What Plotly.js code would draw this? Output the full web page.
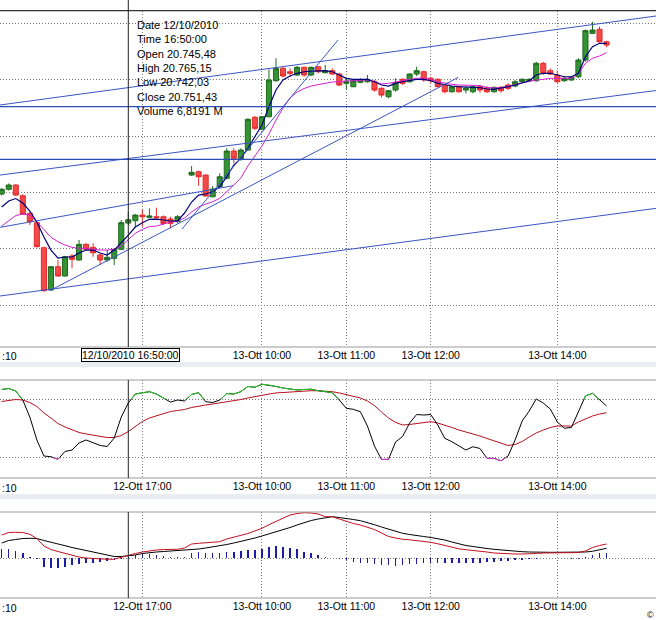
<!DOCTYPE html>
<html><head><meta charset="utf-8">
<script src="https://cdn.plot.ly/plotly-3.0.1.min.js"></script>
<style>html,body{margin:0;padding:0;background:#fff;}#chart{width:656px;height:620px;}</style>
</head><body><div id="chart"></div>
<script>
// ---- Price candles (5 min, FTSE MIB), index 26 = session gap ----
const openP  = [20797.0,20805.4,20813.0,20794.0,20762.8,20746.1,20701.7,20626.6,20668.0,20651.5,20687.0,20679.9,20707.7,20702.4,20688.8,20679.9,20682.9,20698.9,20745.48,20749.6,20759.7,20755.7,20756.7,20756.7,20752.6,20747.9,null,20830.7,20836.6,20830.7,20792.2,20810.0,20824.9,20873.3,20858.6,20875.1,20933.2,20911.9,20934.2,20998.1,21020.1,21014.1,21008.2,21021.9,21008.2,21023.0,21012.3,21015.9,21010.0,20993.5,20987.5,20995.3,20996.3,20996.3,20984.6,20969.7,20981.6,21000.6,20996.3,21010.0,21014.1,21002.4,21000.6,20990.5,20978.6,20987.5,20981.6,20978.6,20987.5,20985.7,20978.6,20986.4,20990.5,20988.7,20996.3,20998.1,20998.1,21029.0,21015.9,21008.2,20998.1,20999.4,21005.2,21034.9,21082.2,21089.3,21067.3];
const highP  = [20807.7,20815.7,20814.8,20796.5,20765.6,20747.9,20703.5,20669.2,20679.9,20687.0,20690.5,20715.4,20709.5,20709.5,20691.8,20697.6,20700.6,20750.9,20765.15,20761.5,20769.9,20771.6,20772.7,20758.9,20756.7,20759.7,null,20846.7,20838.4,20832.0,20811.2,20833.8,20878.1,20878.1,20878.1,20931.4,20935.5,20935.5,21018.3,21037.9,21023.0,21020.1,21024.2,21023.0,21023.0,21024.2,21026.0,21020.1,21012.3,21002.4,20999.4,21002.4,21008.2,20999.4,20986.4,20981.6,21002.4,21002.4,21011.3,21023.0,21015.9,21005.2,21002.4,20993.5,20988.7,20988.7,20987.5,20988.7,20990.5,20988.7,20987.5,20988.7,20993.5,20999.4,21002.4,21002.4,21031.8,21031.8,21020.1,21015.9,21005.2,21006.5,21037.9,21089.3,21102.8,21094.0,21069.1];
const lowP   = [20794.4,20803.2,20793.5,20759.7,20742.0,20702.4,20623.6,20625.4,20650.2,20650.6,20665.1,20678.6,20697.6,20685.7,20671.0,20676.9,20671.0,20697.6,20742.03,20737.9,20739.0,20753.9,20753.9,20742.0,20736.1,20746.1,null,20829.0,20811.8,20792.2,20791.2,20808.9,20823.1,20851.5,20856.1,20873.3,20910.6,20910.6,20933.2,20996.3,21004.2,21005.2,21006.5,21005.2,21006.5,21011.3,21011.3,21008.2,20988.7,20982.9,20986.4,20993.5,20994.6,20978.6,20968.7,20966.9,20978.6,20990.5,20994.6,21006.5,20996.3,20993.5,20986.4,20975.8,20976.8,20976.8,20975.8,20975.8,20976.8,20976.3,20976.8,20976.8,20981.6,20986.4,20994.6,20996.3,20996.3,21008.2,21008.2,20994.6,20996.3,20998.1,21002.4,21031.8,21081.0,21065.6,21057.4];
const closeP = [20805.4,20813.0,20795.2,20761.5,20747.9,20703.5,20625.4,20668.0,20651.5,20685.7,20681.1,20707.7,20698.9,20692.8,20679.9,20684.7,20698.9,20746.1,20751.43,20759.7,20756.7,20758.0,20755.0,20744.7,20745.0,20756.7,null,20835.5,20827.7,20793.5,20805.9,20827.7,20873.3,20860.4,20875.1,20929.6,20913.6,20934.2,20999.4,21020.1,21006.5,21011.3,21021.9,21008.2,21021.9,21014.1,21015.9,21010.0,20990.5,20996.3,20998.1,20999.4,21000.6,20981.6,20972.7,20980.4,20994.6,20993.5,21010.0,21015.9,20999.4,20998.1,20987.5,20978.6,20987.5,20978.6,20984.6,20987.5,20981.6,20978.6,20986.4,20980.4,20984.6,20996.3,21000.6,21000.6,21029.0,21011.3,21010.0,20996.3,21002.4,21004.2,21034.9,21086.9,21088.1,21067.3,21061.5];
// moving averages
const maFast = [20773.9,20784.6,20789.0,20781.0,20766.9,20747.3,20720.7,20697.6,20683.4,20685.2,20685.2,20692.3,20697.6,20697.6,20692.3,20688.8,20697.6,20710.0,20724.2,20738.4,20746.1,20752.1,20752.6,20750.9,20749.1,20749.1,20763.3,20782.8,20795.2,20797.0,20801.1,20810.0,20827.7,20848.5,20860.4,20878.1,20898.7,20919.5,20952.0,20981.6,20999.4,21006.5,21011.3,21014.1,21015.3,21015.9,21015.9,21014.1,21008.2,21002.4,21000.6,21000.6,21000.6,20996.3,20990.5,20988.7,20993.5,20996.3,20998.1,21000.6,21000.6,20998.1,20993.5,20990.5,20988.7,20987.5,20986.4,20986.4,20986.0,20983.4,20982.9,20984.6,20987.5,20990.5,20994.6,20998.1,21008.2,21011.3,21011.3,21008.2,21005.2,21005.2,21011.3,21040.7,21058.5,21064.5,21064.5];
const maSlow = [20740.2,20749.1,20758.9,20761.5,20759.7,20747.9,20733.1,20720.2,20712.4,20706.5,20702.4,20700.6,20700.6,20698.9,20697.6,20697.6,20698.9,20704.7,20715.4,20727.3,20734.4,20739.0,20740.2,20743.8,20747.3,20749.1,20754.4,20765.1,20773.9,20779.3,20783.3,20789.4,20800.6,20813.0,20825.4,20846.7,20864.5,20882.2,20903.5,20928.4,20949.7,20967.4,20978.1,20984.3,20988.7,20991.4,20994.0,20995.8,20996.3,20998.1,20998.1,20998.1,20999.4,20996.3,20992.3,20993.5,20995.3,20998.1,21000.6,21002.4,21002.4,21000.6,20996.3,20993.5,20991.7,20990.5,20990.5,20990.5,20989.6,20986.0,20985.2,20986.0,20988.7,20991.4,20994.6,20997.1,20999.4,21000.6,21002.4,21002.4,21002.4,21002.4,21011.3,21029.0,21037.9,21042.0,21047.8];
// stochastic oscillator
const stochK = [90.2,91.2,88.6,79.3,61.7,38.0,21.4,20.7,18.0,26.1,27.6,34.9,38.0,34.9,32.3,31.2,40.0,61.7,76.2,85.5,86.9,87.9,85.5,81.4,77.2,79.3,78.3,85.0,86.9,77.6,76.7,79.3,86.0,85.5,87.9,93.3,92.5,95.6,94.8,93.3,91.7,90.7,89.7,90.2,90.4,88.9,88.1,86.9,79.3,70.7,69.7,67.2,52.4,31.7,17.8,18.0,35.9,41.6,55.5,64.3,63.8,64.3,53.5,39.7,36.2,31.7,27.6,31.0,29.2,19.0,19.0,16.5,21.4,38.0,57.6,67.9,80.4,76.2,70.0,56.6,50.1,50.9,67.9,83.5,86.2,79.3,73.1];
const stochD = [77.8,78.8,79.8,79.3,76.7,72.6,65.9,60.7,55.0,51.4,48.3,45.7,44.2,43.1,41.6,40.5,40.5,42.6,46.7,51.9,57.1,60.7,62.8,64.8,67.4,68.5,69.5,71.6,73.1,74.1,75.2,76.2,77.2,78.3,79.8,81.4,82.9,84.5,85.5,86.6,87.1,88.1,88.6,88.6,88.9,88.9,88.6,87.9,86.6,85.0,83.5,81.4,78.3,73.6,66.9,60.7,56.1,53.5,54.0,55.0,56.6,56.9,55.5,53.5,50.9,48.3,46.2,44.7,42.1,39.5,36.9,34.5,32.3,33.3,36.4,41.1,45.2,48.3,50.9,52.4,52.4,52.4,56.6,59.7,62.8,64.8,66.2];
// MACD
const macdLine = [46.6,51.6,52.0,51.6,48.0,39.6,24.6,17.6,13.6,9.6,5.6,2.6,0.6,-0.4,-2.0,-2.0,-1.8,2.2,6.6,9.6,12.6,15.0,16.6,17.6,18.0,18.0,20.6,28.6,30.0,31.2,32.2,33.2,38.6,42.0,45.2,49.6,54.6,60.0,67.2,74.0,80.6,86.6,89.6,91.2,90.6,88.6,83.2,83.2,78.6,73.6,69.6,66.6,62.6,57.6,50.6,43.6,40.6,38.0,37.0,35.6,34.6,32.0,29.0,25.6,22.0,19.0,17.2,16.0,14.6,12.6,10.6,9.6,9.0,8.6,8.6,8.6,9.6,10.6,11.2,11.2,11.2,11.2,11.6,14.6,21.6,25.6,28.6];
const macdSignal = [30.6,35.6,37.6,39.6,40.0,39.6,35.6,32.6,28.6,25.2,21.6,18.6,14.6,11.6,8.6,6.0,3.6,3.6,4.6,6.6,9.6,11.6,12.6,13.6,14.6,15.6,16.2,16.6,18.6,20.6,22.6,24.6,27.6,30.6,33.6,37.6,40.6,44.6,48.6,52.6,57.6,61.6,66.6,71.6,75.6,78.6,80.6,83.2,81.6,80.0,77.6,75.2,71.6,67.2,62.6,58.0,53.6,50.0,47.6,45.0,43.6,41.6,39.6,36.6,32.6,28.6,25.6,23.6,21.2,19.6,18.0,16.6,15.2,14.0,13.2,12.6,12.0,12.0,12.0,12.0,12.0,12.0,12.0,12.6,14.0,17.6,20.0];
const macdHist = [18.6,18.6,15.2,10,3.2,-1.4,-16.8,-19.4,-19.4,-16.8,-13.4,-11.4,-10,-8.8,-6.8,-5.4,-3.4,-0.8,3.2,6.6,8.6,8.6,6.6,4.6,3.2,2,3.2,10,13.2,11.2,10,11.2,13.2,13.2,15.2,16.6,16.6,18,23.2,24.6,23.2,20,18,13.2,10,6.6,3.2,0.6,-1.4,-3.4,-6.8,-8.8,-10,-11.4,-13.4,-13.4,-15.4,-13.4,-11.4,-11.4,-10,-10,-10,-8.8,-8.8,-8.8,-8.8,-8.8,-8.8,-7.4,-6.8,-5.4,-5.4,-3.4,-3.4,-2,-0.8,0,0,0.6,0,-1.4,-0.8,2,6.6,10,11.2];
// time axis (the top panel's first label is covered by the cursor label)
const tickVals = [20,37,49,61,79];
const tickText = ['12-Ott 17:00','13-Ott 10:00','13-Ott 11:00','13-Ott 12:00','13-Ott 14:00'];
const tickTextTop = ['','13-Ott 10:00','13-Ott 11:00','13-Ott 12:00','13-Ott 14:00'];
const priceGrid = [20600,20700,20800,20900,21000,21100];
// user-drawn trend lines: [x0, price0, x1, price1]
const trendLines = [
  [-0.242,20955.0,93.03,21113.0],
  [-0.242,20830.7,93.03,20980.7],
  [-0.242,20616.0,93.03,20771.6],
  [6.87,20625.7,64.92,21004.2],
  [25.64,20734.9,47.82,21070.4],
  [-0.242,20737.9,32.93,20811.8]
];
const levelLines = [20952.0,20858.6];
const cursorIndex = 18;
const infoLines = ['Date 12/10/2010','Time 16:50:00','Open 20.745,48','High 20.765,15','Low 20.742,03','Close 20.751,43','Volume 6,8191 M'];
const cursorLabel = '12/10/2010 16:50:00';

const idx = openP.map((_, i) => i);
const H = 620, W = 656;
const py = p => 1 - p / H;   // pixel row -> paper fraction
const xRange = [-0.2417, 93.03];

function overlay(ys, test, thr) {
  const ox = [], oy = [];
  for (let i = 0; i < ys.length - 1; i++) {
    const a = ys[i], b = ys[i + 1];
    const ia = test(a), ib = test(b);
    if (!(ia || ib)) continue;
    if (ia && ib) { ox.push(i, i + 1, null); oy.push(a, b, null); }
    else {
      const xc = i + (thr - a) / (b - a);
      if (ia) { ox.push(i, xc, null); oy.push(a, thr, null); }
      else { ox.push(xc, i + 1, null); oy.push(thr, b, null); }
    }
  }
  return {x: ox, y: oy};
}
const hiSeg = overlay(stochK, v => v >= 80, 80);
const loSeg = overlay(stochK, v => v <= 20, 20);

const traces = [
  {type:'candlestick', x: idx, open: openP, high: highP, low: lowP, close: closeP, xaxis:'x', yaxis:'y',
   increasing:{line:{color:'#1d6a1d', width:1}, fillcolor:'#359235'},
   decreasing:{line:{color:'#e52a2a', width:1}, fillcolor:'#f24a4a'}, whiskerwidth:0, hoverinfo:'skip'},
  {type:'scatter', mode:'lines', x: idx, y: maSlow, xaxis:'x', yaxis:'y', line:{color:'#d21fd2', width:1}},
  {type:'scatter', mode:'lines', x: idx, y: maFast, xaxis:'x', yaxis:'y', line:{color:'#00007a', width:1.2}},
  {type:'scatter', mode:'lines', x: idx, y: stochD, xaxis:'x2', yaxis:'y2', line:{color:'#b80f1f', width:1}},
  {type:'scatter', mode:'lines', x: idx, y: stochK, xaxis:'x2', yaxis:'y2', line:{color:'#000000', width:1}},
  {type:'scatter', mode:'lines', x: hiSeg.x, y: hiSeg.y, xaxis:'x2', yaxis:'y2', line:{color:'#28d028', width:1}, connectgaps:false},
  {type:'scatter', mode:'lines', x: loSeg.x, y: loSeg.y, xaxis:'x2', yaxis:'y2', line:{color:'#d23cd2', width:1}, connectgaps:false},
  {type:'bar', x: idx, y: macdHist, xaxis:'x3', yaxis:'y3', width:0.2, marker:{color:'#1c1ca6', line:{width:0}}},
  {type:'scatter', mode:'lines', x: idx, y: macdSignal, xaxis:'x3', yaxis:'y3', line:{color:'#000000', width:1}},
  {type:'scatter', mode:'lines', x: idx, y: macdLine, xaxis:'x3', yaxis:'y3', line:{color:'#c4101e', width:1}}
];

const gridC = '#7a7a7a';
const gridDash = '1px,2px';
const font = 'Liberation Sans, Arial, sans-serif';
function xAxis(anchor, texts) {
  return {anchor, domain:[0,1], range:xRange, tickvals:tickVals, ticktext:texts, ticks:'', showline:false,
    zeroline:false, showgrid:true, gridcolor:gridC, griddash:gridDash, gridwidth:1,
    tickfont:{family:font, size:10.5, color:'#000'}, fixedrange:true, rangeslider:{visible:false}};
}
function yAxis(domain, range, vals) {
  return {domain, range, tickvals:vals, showticklabels:false, ticks:'', zeroline:false, showline:false,
    showgrid:true, gridcolor:gridC, griddash:gridDash, gridwidth:1, fixedrange:true};
}

const shapes = [];
trendLines.forEach(t => shapes.push({type:'line', xref:'x', yref:'y', x0:t[0], y0:t[1], x1:t[2], y1:t[3], line:{color:'#3b55c4', width:1}}));
levelLines.forEach(v => shapes.push({type:'line', xref:'paper', yref:'y', x0:0, x1:1, y0:v, y1:v, line:{color:'#2f4db8', width:1.2}}));
// panel frames
shapes.push({type:'line', xref:'paper', yref:'paper', x0:0, x1:1, y0:py(10.7), y1:py(10.7), line:{color:'#333', width:1.2}});
[347, 380, 478, 512, 598].forEach(p => shapes.push({type:'line', xref:'paper', yref:'paper', x0:0, x1:1, y0:py(p), y1:py(p), line:{color:'#9a9a9a', width:1}}));
[[362,367],[494,499]].forEach(s => shapes.push({type:'rect', xref:'paper', yref:'paper', x0:0, x1:1, y0:py(s[1]), y1:py(s[0]), fillcolor:'#e9edf2', line:{width:0}}));
// cursor
[[0,347],[380,478],[512,598]].forEach(s => shapes.push({type:'line', xref:'x', yref:'paper', x0:cursorIndex, x1:cursorIndex, y0:py(s[1]), y1:py(s[0]), line:{color:'#222', width:1}}));

const annotations = [
  {xref:'paper', yref:'paper', x:135/W, y:py(17), xanchor:'left', yanchor:'top', align:'left', showarrow:false,
   text: infoLines.join('<br>'), font:{family:font, size:11, color:'#000'}},
  {xref:'paper', yref:'paper', x:130.85/W, y:py(355), xanchor:'center', yanchor:'middle', showarrow:false,
   text: cursorLabel, bgcolor:'#fff', bordercolor:'#000', borderwidth:1, borderpad:0, font:{family:font, size:10.5, color:'#000'}},
  {xref:'paper', yref:'paper', x:0, y:py(356), xanchor:'left', yanchor:'middle', showarrow:false, text:':10', font:{family:font, size:10.5, color:'#000'}},
  {xref:'paper', yref:'paper', x:0, y:py(487.5), xanchor:'left', yanchor:'middle', showarrow:false, text:':10', font:{family:font, size:10.5, color:'#000'}},
  {xref:'paper', yref:'paper', x:0, y:py(607.5), xanchor:'left', yanchor:'middle', showarrow:false, text:':10', font:{family:font, size:10.5, color:'#000'}},
  {xref:'paper', yref:'paper', x:1, y:py(615), xanchor:'right', yanchor:'middle', showarrow:false, text:'©', font:{family:font, size:9, color:'#000'}}
];

const layout = {
  width:W, height:H, margin:{l:0, r:0, t:0, b:0}, paper_bgcolor:'#fff', plot_bgcolor:'#fff', showlegend:false,
  font:{family:font}, boxgap:0.2, boxgroupgap:0.1, bargap:0,
  xaxis: xAxis('y', tickTextTop), xaxis2: xAxis('y2', tickText), xaxis3: xAxis('y3', tickText),
  yaxis: yAxis([py(347), py(10.7)], [20525.5, 21122.4], priceGrid),
  yaxis2: yAxis([py(478), py(380)], [-1.34, 100], [20, 80]),
  yaxis3: yAxis([py(598), py(512)], [-79.4, 92.6], [0]),
  shapes, annotations
};
Plotly.newPlot('chart', traces, layout, {staticPlot:true, displayModeBar:false});
</script></body></html>
